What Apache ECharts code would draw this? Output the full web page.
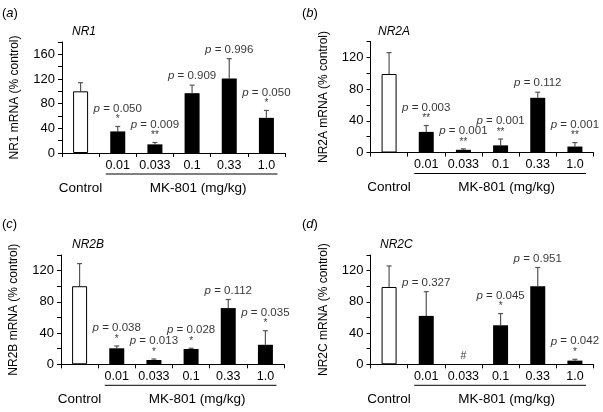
<!DOCTYPE html>
<html>
<head>
<meta charset="utf-8">
<script src="https://cdn.jsdelivr.net/npm/echarts@6/dist/echarts.min.js"></script>
<style>
  html, body { margin: 0; padding: 0; background: #fff; }
  #main { width: 603px; height: 412px; }
</style>
</head>
<body>
<div id="main"></div>
<script>
// dose groups (Control + MK-801 mg/kg)
const doses = ['Control', '0.01', '0.033', '0.1', '0.33', '1.0'];

// (a) NR1
const nr1Mean = [100, 35, 14, 97, 121, 57];
const nr1Err = [14, 8, 3, 13, 32, 12];
const nr1P = ['', '0.050', '0.009', '0.909', '0.996', '0.050'];
const nr1Mark = ['', '*', '**', '', '', '*'];

// (b) NR2A
const nr2aMean = [99, 26, 3.4, 9, 69, 7.5];
const nr2aErr = [27, 8, 1.2, 8, 7, 5];
const nr2aP = ['', '0.003', '0.001', '0.001', '0.112', '0.001'];
const nr2aMark = ['', '**', '**', '**', '', '**'];

// (c) NR2B
const nr2bMean = [100, 20.5, 5.5, 19.6, 72, 25];
const nr2bErr = [29, 3, 1.3, 1, 11, 18];
const nr2bP = ['', '0.038', '0.013', '0.028', '0.112', '0.035'];
const nr2bMark = ['', '*', '*', '*', '', '*'];

// (d) NR2C  (0.033 group not detected -> #)
const nr2cMean = [99, 62, null, 50, 100, 4.7];
const nr2cErr = [27, 31, null, 15, 24, 1.7];
const nr2cP = ['', '0.327', '', '0.045', '0.951', '0.042'];
const nr2cMark = ['', '', '#', '*', '', '*'];

const yTicks = [0, 40, 80, 120, 160];

const panels = [
  { tag: 'a', gene: 'NR1', mean: nr1Mean, err: nr1Err, p: nr1P, mark: nr1Mark, max: 180,
    grid: { left: 62, top: 42, width: 223, height: 111 }, tagPos: [2, 7], genePos: [72, 26] },
  { tag: 'b', gene: 'NR2A', mean: nr2aMean, err: nr2aErr, p: nr2aP, mark: nr2aMark, max: 140,
    grid: { left: 370.5, top: 41.5, width: 223, height: 111 }, tagPos: [302, 7], genePos: [378, 26] },
  { tag: 'c', gene: 'NR2B', mean: nr2bMean, err: nr2bErr, p: nr2bP, mark: nr2bMark, max: 140,
    grid: { left: 61, top: 255, width: 223, height: 109.3 }, tagPos: [2, 218], genePos: [72, 239] },
  { tag: 'd', gene: 'NR2C', mean: nr2cMean, err: nr2cErr, p: nr2cP, mark: nr2cMark, max: 140,
    grid: { left: 370.5, top: 255, width: 223, height: 109.3 }, tagPos: [302, 218], genePos: [380, 239] }
];

const FONT = 'Liberation Sans, Arial, sans-serif';
const chart = echarts.init(document.getElementById('main'), null, { renderer: 'canvas' });

function errorBar(params, api) {
  const y = api.value(1), e = api.value(2);
  if (isNaN(y) || isNaN(e) || e <= 0) return null;
  const base = api.coord([api.value(0), y]);
  const top = api.coord([api.value(0), y + e]);
  const st = { stroke: '#555', lineWidth: 1.2 };
  return {
    type: 'group',
    children: [
      { type: 'line', shape: { x1: base[0], y1: base[1], x2: top[0], y2: top[1] }, style: st },
      { type: 'line', shape: { x1: top[0] - 2.5, y1: top[1], x2: top[0] + 2.5, y2: top[1] }, style: st }
    ]
  };
}

const grids = [], xAxes = [], yAxes = [], series = [], titles = [];

panels.forEach((pn, k) => {
  grids.push(pn.grid);
  titles.push({
    text: '({i|' + pn.tag + '})', left: pn.tagPos[0], top: pn.tagPos[1], padding: 0,
    textStyle: { fontFamily: FONT, fontSize: 13, fontWeight: 'normal', color: '#000',
      rich: { i: { fontFamily: FONT, fontSize: 13, fontStyle: 'italic', color: '#000' } } }
  });
  titles.push({
    text: pn.gene, left: pn.genePos[0], top: pn.genePos[1], padding: 0,
    textStyle: { fontFamily: FONT, fontSize: 12, fontWeight: 'normal', fontStyle: 'italic', color: '#000' }
  });
  xAxes.push({
    type: 'category', gridIndex: k, data: doses,
    axisLine: { lineStyle: { color: '#000', width: 1 } },
    axisTick: { show: true, length: 4, lineStyle: { color: '#000' } },
    axisLabel: {
      interval: 0, margin: 6, color: '#000', fontFamily: FONT, fontSize: 12.5,
      formatter: (v, i) => i === 0 ? '' : v
    }
  });
  yAxes.push({
    type: 'value', gridIndex: k, min: 0, max: pn.max, interval: 20,
    name: pn.gene + ' mRNA (% control)', nameLocation: 'middle', nameGap: 41,
    nameTextStyle: { fontFamily: FONT, fontSize: 12, color: '#000' },
    axisLine: { show: true, lineStyle: { color: '#000', width: 1 } },
    axisTick: { show: true, length: 4, lineStyle: { color: '#000' } },
    axisLabel: { margin: 7, color: '#000', fontFamily: FONT, fontSize: 13,
      formatter: v => yTicks.indexOf(v) >= 0 ? String(v) : '' },
    splitLine: { show: false }
  });
  series.push({
    type: 'bar', xAxisIndex: k, yAxisIndex: k, barWidth: 15, silent: true,
    itemStyle: { color: '#000' },
    data: pn.mean.map((m, i) => i === 0
      ? { value: m, itemStyle: { color: '#fff', borderColor: '#000', borderWidth: 1 } }
      : (m === null ? '-' : m))
  });
  series.push({
    type: 'custom', xAxisIndex: k, yAxisIndex: k, silent: true, renderItem: errorBar,
    data: pn.mean.map((m, i) => [i, m === null ? NaN : m, pn.err[i] === null ? NaN : pn.err[i]])
  });
  series.push({
    type: 'scatter', xAxisIndex: k, yAxisIndex: k, silent: true, symbolSize: 1,
    itemStyle: { color: 'rgba(0,0,0,0)' },
    data: pn.mean.map((m, i) => [i, (m || 0) + (pn.err[i] || 0)]),
    label: {
      show: true, position: 'top', distance: 2,
      fontFamily: FONT, fontSize: 11.5, color: '#000', lineHeight: 13,
      formatter: prm => {
        const i = prm.dataIndex, lines = [];
        if (pn.p[i]) lines.push('{i|p} = ' + pn.p[i]);
        if (pn.mark[i] === '#') lines.push('{h|#}');
        else if (pn.mark[i]) lines.push('{s|' + pn.mark[i] + '}');
        return lines.join('\n');
      },
      rich: {
        i: { fontFamily: FONT, fontSize: 11.5, fontStyle: 'italic', color: '#000', lineHeight: 13 },
        s: { fontFamily: FONT, fontSize: 10, color: '#000', lineHeight: 9 },
        h: { fontFamily: FONT, fontSize: 10.5, color: '#000', lineHeight: 12 }
      }
    }
  });
});

chart.setOption({
  animation: false,
  backgroundColor: '#fff',
  title: titles,
  grid: grids,
  xAxis: xAxes,
  yAxis: yAxes,
  series: series
});

// Control caption, dose bracket line and MK-801 caption under each panel
const extras = [];
const capStyle = { fontFamily: FONT, fontSize: 13.5, fill: '#000', align: 'center', verticalAlign: 'middle' };
panels.forEach((pn, k) => {
  const x0 = chart.convertToPixel({ xAxisIndex: k }, 0);
  const x1 = chart.convertToPixel({ xAxisIndex: k }, 1);
  const x5 = chart.convertToPixel({ xAxisIndex: k }, 5);
  const y0 = chart.convertToPixel({ yAxisIndex: k }, 0);
  extras.push({
    type: 'text', silent: true, x: x0, y: y0 + 35,
    style: Object.assign({ text: doses[0] }, capStyle)
  });
  extras.push({
    type: 'line', silent: true,
    shape: { x1: x1 - 12, y1: y0 + 21, x2: x5 + 11, y2: y0 + 21 },
    style: { stroke: '#000', lineWidth: 1 }
  });
  extras.push({
    type: 'text', silent: true, x: (x1 + x5) / 2 + 6, y: y0 + 35,
    style: Object.assign({ text: 'MK-801 (mg/kg)' }, capStyle)
  });
});
chart.setOption({ graphic: extras });
</script>
</body>
</html>
